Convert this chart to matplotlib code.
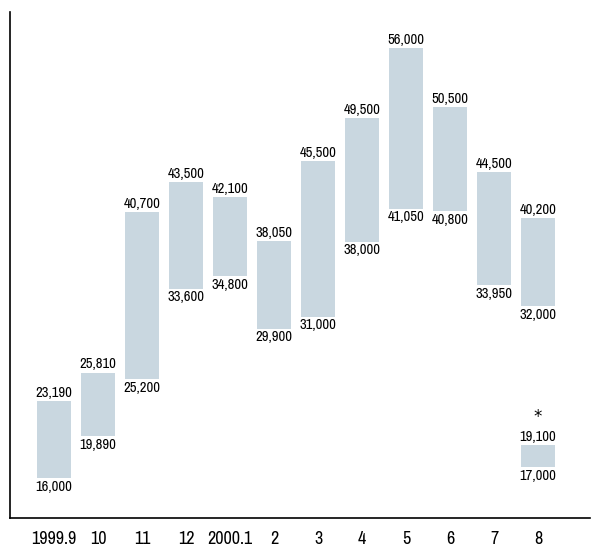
import numpy as np
import matplotlib.pyplot as plt

plt.rcParams['font.family'] = ['Archivo Narrow', 'DejaVu Sans']

months = ['1999.9', '10', '11', '12', '2000.1', '2', '3', '4', '5', '6', '7', '8']
lows = [16000, 19890, 25200, 33600, 34800, 29900, 31000, 38000, 41050, 40800, 33950, 32000]
highs = [23190, 25810, 40700, 43500, 42100, 38050, 45500, 49500, 56000, 50500, 44500, 40200]
# extra range for the last month (marked with *)
extra_low = 17000
extra_high = 19100

bar_color = '#c9d7e0'

fig = plt.figure(figsize=(5.93, 5.46), dpi=100)
ax = fig.add_axes([10/593, 28/546, 580/593, 506/546])

x = np.arange(len(months))
w = 0.77
ax.bar(x, np.array(highs) - np.array(lows), bottom=lows, width=w, color=bar_color)
ax.bar(x[-1], extra_high - extra_low, bottom=extra_low, width=w, color=bar_color)

fs = 10.5
for xi, lo, hi in zip(x, lows, highs):
    ax.text(xi, hi + 100, f'{hi:,}', ha='center', va='bottom', fontsize=fs)
    ax.text(xi, lo - 150, f'{lo:,}', ha='center', va='top', fontsize=fs)
lab = ax.text(x[-1], extra_high + 100, f'{extra_high:,}', ha='center', va='bottom', fontsize=fs)
ax.text(x[-1], extra_low - 150, f'{extra_low:,}', ha='center', va='top', fontsize=fs)
# asterisk sits just above the 19,100 label
ax.annotate('*', xy=(x[-1], extra_high + 100), xytext=(0, 13), textcoords='offset points',
            ha='center', va='bottom', fontsize=12, family='DejaVu Sans')

ax.set_xlim(-1.0, 12.18)
ax.set_ylim(12280, 59350)
ax.set_xticks(x)
ax.set_xticklabels(months, fontsize=13)
ax.tick_params(axis='x', length=0, pad=9)
ax.set_yticks([])
ax.spines['top'].set_visible(False)
ax.spines['right'].set_visible(False)
ax.spines['left'].set_linewidth(1.2)
ax.spines['bottom'].set_linewidth(1.2)

fig.savefig('out.png', dpi=100)
